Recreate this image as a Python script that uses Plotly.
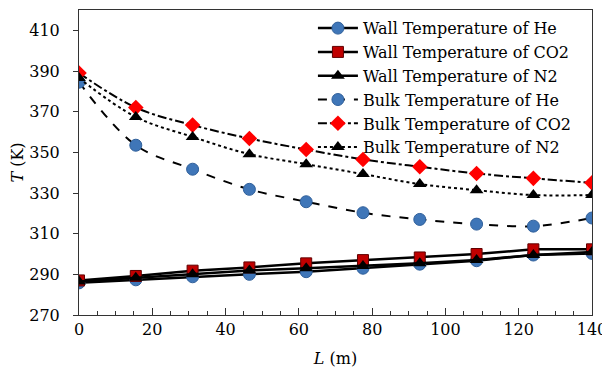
import plotly.graph_objects as go

L = [0, 15.5, 31, 46.5, 62, 77.5, 93, 108.5, 124, 140]

wall_he = [285.8, 287.3, 288.8, 290.0, 291.3, 293.0, 295.0, 296.7, 299.5, 300.3]
wall_co2 = [287.0, 289.2, 291.8, 293.4, 295.4, 297.0, 298.3, 300.0, 302.3, 302.3]
wall_n2 = [286.5, 288.3, 290.0, 291.9, 293.0, 294.1, 295.4, 297.0, 299.5, 301.0]
bulk_he = [384.5, 353.5, 341.7, 331.8, 325.7, 320.3, 317.0, 314.7, 313.7, 317.7]
bulk_co2 = [389.0, 372.0, 363.4, 356.8, 351.4, 346.5, 342.9, 339.6, 337.2, 335.0]
bulk_n2 = [386.5, 367.4, 357.6, 349.1, 344.2, 339.3, 334.4, 331.4, 329.0, 329.0]

x_ticks = [0, 20, 40, 60, 80, 100, 120, 140]
y_ticks = [270, 290, 310, 330, 350, 370, 390, 410]

FONT = "DejaVu Serif"
BLUE = "#3f76b8"

fig = go.Figure()

fig.add_trace(go.Scatter(x=L, y=wall_he, name="Wall Temperature of He", mode="lines+markers",
                         line=dict(color="black", width=2.5),
                         marker=dict(symbol="circle", size=12, color=BLUE, line=dict(color="#2f5f9a", width=1))))
fig.add_trace(go.Scatter(x=L, y=wall_co2, name="Wall Temperature of CO2", mode="lines+markers",
                         line=dict(color="black", width=2.5),
                         marker=dict(symbol="square", size=11, color="#c00000", line=dict(color="#600000", width=1))))
fig.add_trace(go.Scatter(x=L, y=wall_n2, name="Wall Temperature of N2", mode="lines+markers",
                         line=dict(color="black", width=2.5),
                         marker=dict(symbol="triangle-up", size=12, color="black")))
fig.add_trace(go.Scatter(x=L, y=bulk_he, name="Bulk Temperature of He", mode="lines+markers",
                         line=dict(color="black", width=2, dash="dash", shape="spline"),
                         marker=dict(symbol="circle", size=12, color=BLUE, line=dict(color="#2f5f9a", width=1))))
fig.add_trace(go.Scatter(x=L, y=bulk_co2, name="Bulk Temperature of CO2", mode="lines+markers",
                         line=dict(color="black", width=2, dash="dashdot", shape="spline"),
                         marker=dict(symbol="diamond", size=12, color="#ff0000")))
fig.add_trace(go.Scatter(x=L, y=bulk_n2, name="Bulk Temperature of N2", mode="lines+markers",
                         line=dict(color="black", width=2, dash="dot", shape="spline"),
                         marker=dict(symbol="triangle-up", size=12, color="black")))

# The page body adds an 8px margin, so the figure is 8px smaller than the window.
fig.update_layout(
    width=602, height=360,
    margin=dict(l=71, r=18, t=2, b=53, autoexpand=False),
    paper_bgcolor="white", plot_bgcolor="white",
    font=dict(family=FONT, size=16, color="black"),
    showlegend=True,
    legend=dict(x=0.456, y=0.996, xanchor="left", yanchor="top",
                bgcolor="rgba(0,0,0,0)", font=dict(family=FONT, size=16, color="black"),
                tracegroupgap=0, itemwidth=40),
    xaxis=dict(range=[0, 140], tickvals=x_ticks, ticktext=[str(v) for v in x_ticks],
               showgrid=False, zeroline=False, showline=True, linecolor="#333333", linewidth=1,
               mirror=True, ticks="inside", ticklen=7, tickcolor="#333333", automargin=False,
               minor=dict(dtick=5, ticks="inside", ticklen=4, tickcolor="#333333", showgrid=False),
               title=dict(text="<i>L</i> (m)", font=dict(family=FONT, size=16)),
               tickfont=dict(family=FONT, size=16)),
    yaxis=dict(range=[270, 420], tickvals=y_ticks, ticktext=[str(v) for v in y_ticks],
               showgrid=False, zeroline=False, showline=True, linecolor="#333333", linewidth=1,
               mirror=True, ticks="outside", ticklen=5, tickcolor="#333333",
               ticklabelstandoff=10, automargin=False,
               title=dict(text="<i>T</i> (K)", font=dict(family=FONT, size=16)),
               tickfont=dict(family=FONT, size=16)),
)

fig.write_html("out.html")
